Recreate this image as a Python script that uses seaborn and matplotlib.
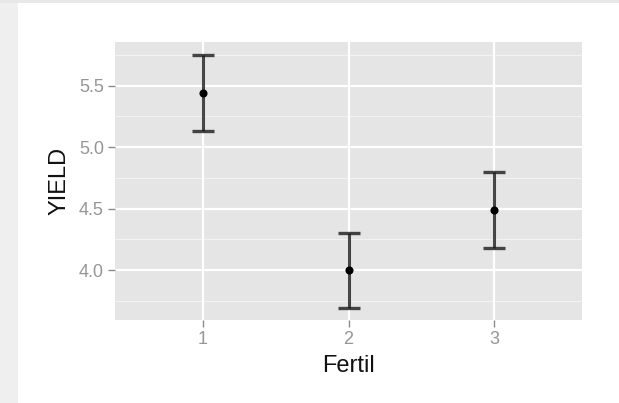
import matplotlib
matplotlib.use("Agg")
import matplotlib.pyplot as plt
from matplotlib.patches import Rectangle
import seaborn as sns
import pandas as pd

fertil = [1, 2, 3]
yield_mean = [5.44, 4.00, 4.49]
yield_lower = [5.135, 3.695, 4.18]
yield_upper = [5.75, 4.305, 4.795]
x_ticks = ["1", "2", "3"]
y_ticks = [4.0, 4.5, 5.0, 5.5]
y_minor = [3.75, 4.25, 4.75, 5.25, 5.75]

df = pd.DataFrame({"Fertil": fertil, "YIELD": yield_mean,
                   "lo": yield_lower, "hi": yield_upper})

sns.set_style("white")
plt.rcParams["font.family"] = ["Liberation Sans", "DejaVu Sans"]
plt.rcParams["hatch.color"] = "#e2e2e2"
plt.rcParams["hatch.linewidth"] = 0.6

fig = plt.figure(figsize=(6.19, 4.03), dpi=100)
fig.patch.set_facecolor("white")
# textured paper border (approximation)
fig.patches.append(Rectangle((0, 0), 18 / 619, 1, transform=fig.transFigure,
                             facecolor="#efefef", edgecolor="none", zorder=0,
                             hatch="////", linewidth=0))
fig.patches.append(Rectangle((0, 1 - 3 / 403), 1, 3 / 403, transform=fig.transFigure,
                             facecolor="#e8e8e8", edgecolor="none", zorder=0))

ax = fig.add_axes([115 / 619, 1 - 320 / 403, (582 - 115) / 619, (320 - 42) / 403])
ax.set_facecolor("#e5e5e5")
for s in ax.spines.values():
    s.set_visible(False)

ax.set_xlim(0.4, 3.6)
ax.set_ylim(3.595, 5.855)

for yv in y_minor:
    ax.axhline(yv, color="#f2f2f2", lw=0.8, zorder=0)
for yv in y_ticks:
    ax.axhline(yv, color="white", lw=1.6, zorder=0)
for xv in fertil:
    ax.axvline(xv, color="white", lw=1.6, zorder=0)

err_lo = [m - l for m, l in zip(df["YIELD"], df["lo"])]
err_hi = [h - m for m, h in zip(df["YIELD"], df["hi"])]
ax.errorbar(df["Fertil"], df["YIELD"], yerr=[err_lo, err_hi], fmt="none",
            ecolor="#1a1a1a", elinewidth=2.2, capsize=8.2, capthick=2.4,
            alpha=0.8, zorder=2)
sns.scatterplot(data=df, x="Fertil", y="YIELD", ax=ax, color="black",
                marker="o", s=34, edgecolor="black", linewidth=0, zorder=3)

ax.set_xticks(fertil)
ax.set_xticklabels(x_ticks)
ax.set_yticks(y_ticks)
ax.set_yticklabels([f"{v:.1f}" for v in y_ticks])
ax.tick_params(axis="both", which="major", length=5, width=1, color="#8a8a8a",
               labelcolor="#969696", labelsize=13, pad=3, direction="out",
               bottom=True, left=True)
ax.set_xlabel("Fertil", fontsize=17, color="#111111", labelpad=5)
ax.set_ylabel("YIELD", fontsize=17, color="#111111", labelpad=6)

fig.savefig("out.png", dpi=100)
